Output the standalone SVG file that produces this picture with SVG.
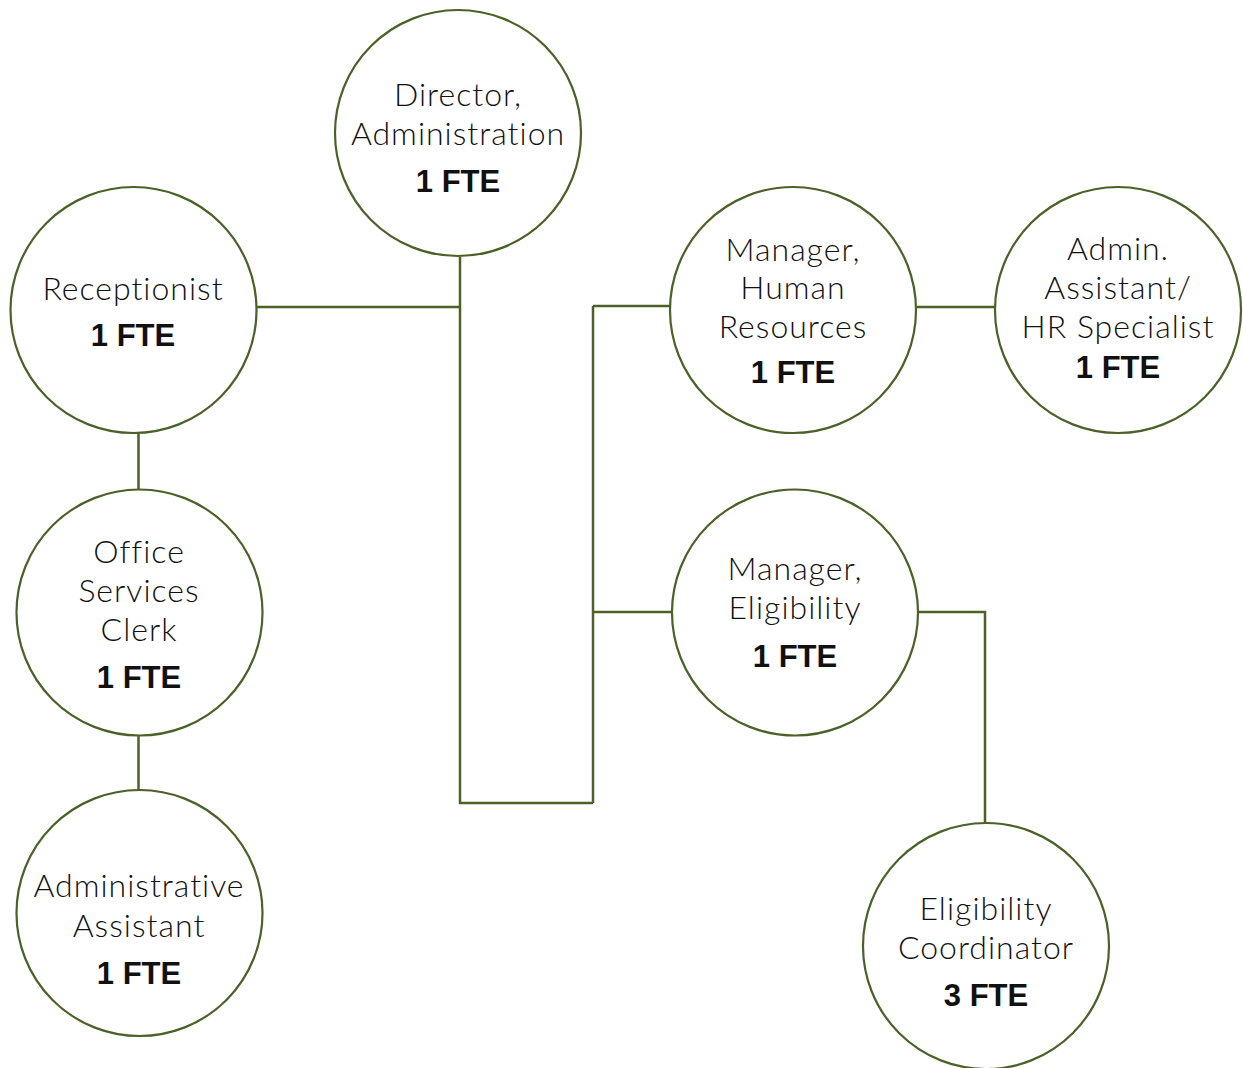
<svg xmlns="http://www.w3.org/2000/svg" width="1243" height="1068" viewBox="0 0 1243 1068">
<style>
.n{fill:#fff;stroke:#4b6128;stroke-width:2.2}
.c{fill:none;stroke:#4b6128;stroke-width:2.5}
.t{font-family:Lato,"Noto Sans",sans-serif;font-size:32px;font-weight:300;letter-spacing:1px;font-variant-ligatures:none;fill:#111;text-anchor:middle}
.b{font-family:"Liberation Sans",Arial,sans-serif;font-weight:bold;font-size:31px;fill:#111;text-anchor:middle}
</style>
<rect width="1243" height="1068" fill="#fff"/>
<g id="connectors">
<path class="c" d="M460,257 V803 H593 M257,307 H460 M593,306 V803 M593,306 H670 M593,612 H672 M917,307 H995 M918,612 H985 V823 M138.5,433 V489 M138.5,736 V790"/>
</g>
<g id="director">
<circle class="n" cx="458" cy="133" r="123"/>
<text class="t" x="458" y="106">Director,</text>
<text class="t" x="458" y="145">Administration</text>
<text class="b" x="458" y="192">1 FTE</text>
</g>
<g id="receptionist">
<circle class="n" cx="133.5" cy="310" r="123"/>
<text class="t" x="133" y="300">Receptionist</text>
<text class="b" x="133" y="346">1 FTE</text>
</g>
<g id="office-clerk">
<circle class="n" cx="139.5" cy="612.5" r="123"/>
<text class="t" x="139" y="563">Office</text>
<text class="t" x="139" y="602">Services</text>
<text class="t" x="139" y="641">Clerk</text>
<text class="b" x="139" y="688">1 FTE</text>
</g>
<g id="admin-assistant">
<circle class="n" cx="139.5" cy="913" r="123"/>
<text class="t" x="139" y="897">Administrative</text>
<text class="t" x="139" y="937">Assistant</text>
<text class="b" x="139" y="984">1 FTE</text>
</g>
<g id="manager-hr">
<circle class="n" cx="793" cy="310" r="123"/>
<text class="t" x="793" y="261">Manager,</text>
<text class="t" x="793" y="299">Human</text>
<text class="t" x="793" y="338">Resources</text>
<text class="b" x="793" y="383">1 FTE</text>
</g>
<g id="admin-hr">
<circle class="n" cx="1118" cy="310" r="123"/>
<text class="t" x="1118" y="260">Admin.</text>
<text class="t" x="1118" y="299">Assistant/</text>
<text class="t" x="1118" y="338">HR Specialist</text>
<text class="b" x="1118" y="378">1 FTE</text>
</g>
<g id="manager-eligibility">
<circle class="n" cx="795" cy="612.5" r="123"/>
<text class="t" x="795" y="580">Manager,</text>
<text class="t" x="795" y="619">Eligibility</text>
<text class="b" x="795" y="667">1 FTE</text>
</g>
<g id="eligibility-coordinator">
<circle class="n" cx="986" cy="946" r="123"/>
<text class="t" x="986" y="920">Eligibility</text>
<text class="t" x="986" y="959">Coordinator</text>
<text class="b" x="986" y="1006">3 FTE</text>
</g>
</svg>
